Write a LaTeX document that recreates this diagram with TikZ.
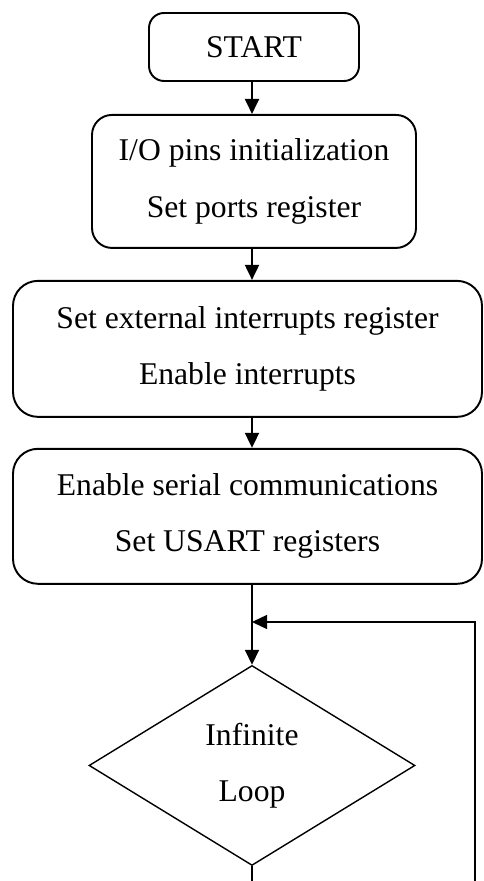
\documentclass[tikz,border=0pt]{standalone}
\usepackage{fontspec}
\setmainfont{Liberation Serif}
\usepackage{tikz}
\usetikzlibrary{positioning,calc,arrows.meta,shapes.geometric}

\begin{document}
\begin{tikzpicture}[box/.style={draw,line width=1.1pt,align=center,inner sep=0pt,
font=\fontsize{18}{32}\selectfont},edge/.style = {-{Triangle[length=0.3cm,width=0.28cm]},line width=1.1pt},
decision/.style={diamond,draw,line width=0.8pt,align=center,inner sep=0pt,
font=\fontsize{18}{32}\selectfont}]
\useasboundingbox (0,0) rectangle (9.66,-17.62);

% nodes
\node[box,rounded corners=0.3cm,minimum width=4.2cm,minimum height=1.36cm](start) at (5.08,-0.94){START};
\node[below=0.64 of start,box,rounded corners=0.4cm,minimum width=6.48cm,minimum height=2.66cm](pins){I/O pins initialization\\Set ports register};
\node[below=0.62 of pins,xshift=-0.13cm,box,rounded corners=0.5cm,minimum width=9.38cm,minimum height=2.72cm](intr){Set external interrupts register\\Enable interrupts};
\node[below=0.6 of intr,box,rounded corners=0.5cm,minimum width=9.38cm,minimum height=2.7cm](usart){Enable serial communications\\Set USART registers};

\node[below=1.6 of usart,xshift=0.09cm,decision,minimum width=6.52cm,minimum height=4cm](loop){Infinite\\Loop};

% loop back
\coordinate (back) at (9.5,-17.62);
\coordinate (join) at (5.04,-12.44);

\draw[edge] (start.south -| join) -- (pins.north -| join);
\draw[edge] (pins.south -| join) -- (intr.north -| join);
\draw[edge] (intr.south -| join) -- (usart.north -| join);
\draw[edge] (usart.south -| join) -- (loop.north);
\draw[line width=0.8pt] (loop.south) -- (loop.south |- back);
\draw[line width=0.8pt,-{Triangle[length=0.3cm,width=0.28cm]}] (back) |- (join);
\end{tikzpicture}
\end{document}
